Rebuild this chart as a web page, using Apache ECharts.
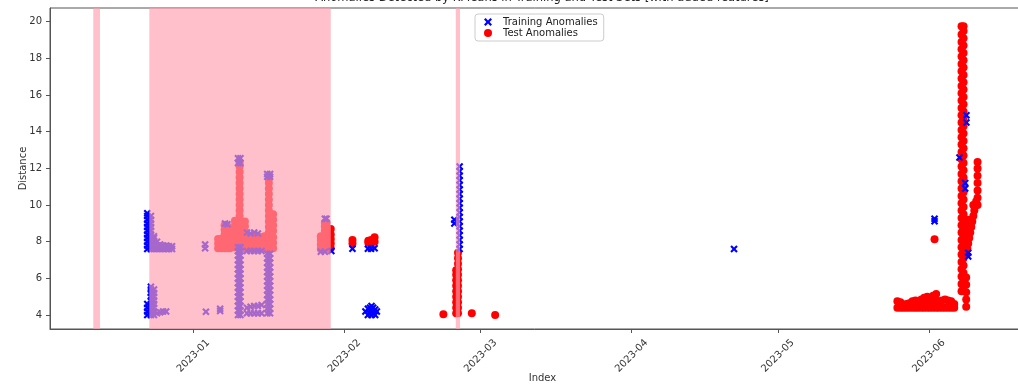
<!DOCTYPE html>
<html><head><meta charset="utf-8">
<script src="https://cdn.jsdelivr.net/npm/echarts@6/dist/echarts.min.js"></script>
<style>html,body{margin:0;padding:0;background:#fff}#c{width:1018px;height:386px}</style>
</head><body><div id="c"></div>
<script>
// ---- data ----
const titleText = 'Anomalies Detected by KMeans in Training and Test Sets [with added features]';
const xTickLabels = ['2023-01', '2023-02', '2023-03', '2023-04', '2023-05', '2023-06'];
const yTickValues = [4, 6, 8, 10, 12, 14, 16, 18, 20];
const xRange = ['2022-12-02 13:40', '2023-06-22 19:00'];
const yRange = [3.24, 20.75];

// highlighted anomaly periods (pink spans)
const anomalySpans = [
  ['2022-12-11 11:00', '2022-12-12 20:00'],
  ['2022-12-22 23:00', '2023-01-29 05:00'],
  ['2023-02-23 21:00', '2023-02-24 18:00']
];

// Training anomalies: [time, distances at that time]
const trainGroups = [
  ['2022-12-22 13:00', [4.0, 4.2, 4.4, 4.6, 7.6, 7.8, 8.0, 8.2, 8.4, 8.6, 8.8, 9.0, 9.2, 9.4, 9.55]],
  ['2022-12-23 07:00', [4.0, 4.2, 4.4, 4.6, 4.8, 5.0, 5.2, 5.4, 5.55, 7.6, 7.8, 8.0, 8.2, 8.4, 8.6, 8.8, 9.0, 9.2, 9.4]],
  ['2022-12-23 22:00', [4.0, 4.2, 4.4, 4.6, 4.8, 5.0, 5.2, 5.4, 7.6, 7.8, 8.0, 8.2, 8.3]],
  ['2022-12-24 13:00', [4.1, 7.6, 7.8, 8.0]],
  ['2022-12-25 04:00', [4.15, 7.6, 7.85]],
  ['2022-12-25 19:00', [4.2, 7.6, 7.8]],
  ['2022-12-26 10:00', [4.2, 7.6, 7.8]],
  ['2022-12-27 00:00', [7.6, 7.75]],
  ['2022-12-27 15:00', [7.6, 7.75]],
  ['2023-01-03 10:00', [7.65, 7.85]],
  ['2023-01-03 14:00', [4.18]],
  ['2023-01-06 12:00', [4.22, 4.35]],
  ['2023-01-07 12:00', [9.0]],
  ['2023-01-08 00:00', [8.95]],
  ['2023-01-10 04:00', [4.0, 4.25, 4.5, 4.75, 5.0, 5.25, 5.5, 5.75, 6.0, 6.25, 6.5, 6.75, 7.0, 7.25, 7.5, 7.7, 12.3, 12.55]],
  ['2023-01-10 16:00', [4.0, 4.25, 4.5, 4.75, 5.0, 5.25, 5.5, 5.75, 6.0, 6.25, 6.5, 6.75, 7.0, 7.25, 7.5, 7.7, 12.3, 12.55]],
  ['2023-01-12 00:00', [4.1, 4.4, 7.5, 8.5]],
  ['2023-01-12 18:00', [4.1, 4.45, 7.5, 8.45]],
  ['2023-01-13 12:00', [4.1, 4.5, 7.5, 8.5]],
  ['2023-01-14 06:00', [4.1, 4.5, 7.5, 8.45]],
  ['2023-01-15 00:00', [4.1, 4.55, 7.5]],
  ['2023-01-16 04:00', [4.1, 4.35, 4.6, 4.85, 5.1, 5.35, 5.6, 5.85, 6.1, 6.35, 6.6, 6.85, 7.1, 7.35, 11.55, 11.7]],
  ['2023-01-16 18:00', [4.1, 4.35, 4.6, 4.85, 5.1, 5.35, 5.6, 5.85, 6.1, 6.35, 6.6, 6.85, 7.1, 7.35, 11.55, 11.7]],
  ['2023-01-27 04:00', [7.45]],
  ['2023-01-28 00:00', [7.45, 9.25]],
  ['2023-01-28 08:00', [9.25]],
  ['2023-01-29 08:00', [7.5]],
  ['2023-02-02 16:00', [7.62]],
  ['2023-02-05 08:00', [4.2]],
  ['2023-02-05 20:00', [4.0, 4.35, 7.62]],
  ['2023-02-06 06:00', [4.1, 4.4]],
  ['2023-02-06 12:00', [7.62]],
  ['2023-02-06 14:00', [4.0, 4.25, 4.5]],
  ['2023-02-06 22:00', [4.1, 4.4]],
  ['2023-02-07 05:00', [7.65]],
  ['2023-02-07 08:00', [4.0, 4.3]],
  ['2023-02-07 16:00', [4.2]],
  ['2023-02-23 14:00', [9.0, 9.2]],
  ['2023-02-24 16:00', [7.6, 7.85, 8.1, 8.35, 8.6, 8.85, 9.1, 9.35, 9.6, 9.85, 10.1, 10.35, 10.6, 10.85, 11.1, 11.35, 11.6, 11.85, 12.1]],
  ['2023-04-22 00:00', [7.6]],
  ['2023-06-02 04:00', [9.12, 9.25]],
  ['2023-06-07 07:00', [12.6]],
  ['2023-06-08 11:00', [10.9, 11.2]],
  ['2023-06-08 17:00', [14.5, 14.9]],
  ['2023-06-09 02:00', [7.2, 7.4]]
];

// Test anomalies: [time, distances at that time]
const testGroups = [
  ['2023-01-06 02:00', [7.65, 7.9, 8.15]],
  ['2023-01-06 18:00', [7.65, 7.9, 8.15]],
  ['2023-01-07 10:00', [7.65, 7.9, 8.15, 8.4, 8.65, 8.9]],
  ['2023-01-08 00:00', [7.65, 7.9, 8.15, 8.4, 8.65, 8.85]],
  ['2023-01-08 12:00', [7.65, 7.9, 8.15, 8.4, 8.65]],
  ['2023-01-09 13:00', [7.7, 8.0, 8.3, 8.6, 8.9, 9.15]],
  ['2023-01-10 12:00', [7.6, 7.9, 8.2, 8.5, 8.8, 9.1, 9.4, 9.7, 10.0, 10.3, 10.6, 10.9, 11.2, 11.5, 11.8, 12.1, 12.3]],
  ['2023-01-11 14:00', [7.65, 7.95, 8.25, 8.55, 8.85, 9.1]],
  ['2023-01-12 06:00', [7.65, 7.95, 8.25]],
  ['2023-01-12 22:00', [7.65, 7.95, 8.3]],
  ['2023-01-13 14:00', [7.65, 7.95, 8.25]],
  ['2023-01-14 06:00', [7.65, 7.95, 8.3]],
  ['2023-01-14 22:00', [7.65, 7.95, 8.25]],
  ['2023-01-15 14:00', [7.65, 7.95, 8.3]],
  ['2023-01-16 12:00', [7.6, 7.9, 8.2, 8.5, 8.8, 9.1, 9.4, 9.7, 10.0, 10.3, 10.6, 10.9, 11.2, 11.45]],
  ['2023-01-17 09:00', [7.65, 7.95, 8.25, 8.6, 8.9, 9.2, 9.5]],
  ['2023-01-27 04:00', [7.6, 7.85, 8.1, 8.3]],
  ['2023-01-28 00:00', [7.6, 7.85, 8.1, 8.35, 8.6, 8.85, 9.05]],
  ['2023-01-28 08:00', [7.6, 7.85, 8.1, 8.35, 8.6, 8.85, 9.05]],
  ['2023-01-29 05:00', [7.65, 7.9, 8.15, 8.4, 8.7]],
  ['2023-02-02 16:00', [7.9, 8.1]],
  ['2023-02-05 22:00', [7.95, 8.05]],
  ['2023-02-06 12:00', [7.95, 8.1]],
  ['2023-02-07 05:00', [8.0, 8.25]],
  ['2023-02-21 08:00', [4.05]],
  ['2023-02-23 23:00', [4.1, 4.4, 4.7, 5.0, 5.3, 5.6, 5.9, 6.2, 6.45]],
  ['2023-02-24 08:00', [4.1, 4.4, 4.7, 5.0, 5.3, 5.6, 5.9, 6.2, 6.5, 6.8, 7.1, 7.4]],
  ['2023-02-27 04:00', [4.1]],
  ['2023-03-03 23:00', [4.0]],
  ['2023-05-25 13:00', [4.4, 4.75]],
  ['2023-05-26 04:00', [4.4, 4.7]],
  ['2023-05-26 18:00', [4.4, 4.5]],
  ['2023-05-27 09:00', [4.4, 4.6]],
  ['2023-05-28 00:00', [4.4, 4.65]],
  ['2023-05-28 15:00', [4.4, 4.75]],
  ['2023-05-29 06:00', [4.4, 4.8]],
  ['2023-05-29 20:00', [4.4, 4.7]],
  ['2023-05-30 11:00', [4.4, 4.85]],
  ['2023-05-31 01:00', [4.4, 4.7, 4.95]],
  ['2023-05-31 16:00', [4.4, 4.7, 5.0]],
  ['2023-06-01 06:00', [4.4, 4.65]],
  ['2023-06-01 21:00', [4.4, 4.75, 5.05]],
  ['2023-06-02 04:00', [8.13]],
  ['2023-06-02 12:00', [4.4, 4.8, 5.15]],
  ['2023-06-03 02:00', [4.4, 4.75]],
  ['2023-06-03 17:00', [4.4, 4.8]],
  ['2023-06-04 08:00', [4.4, 4.85]],
  ['2023-06-04 23:00', [4.4, 4.8]],
  ['2023-06-05 14:00', [4.4, 4.75]],
  ['2023-06-06 05:00', [4.4, 4.6]],
  ['2023-06-07 17:00', [5.3, 5.7, 6.1, 6.5, 6.9, 7.3, 7.7, 8.1, 8.5, 8.9, 9.3, 9.7, 10.1, 10.5, 10.9, 11.3, 11.7, 12.1, 12.5, 12.9, 13.3, 13.7, 14.1, 14.5, 14.9, 15.3, 15.7, 16.1, 16.5, 16.9, 17.3, 17.7, 18.1, 18.5, 18.9, 19.3, 19.75]],
  ['2023-06-08 03:00', [5.5, 5.9, 6.3, 6.7, 7.1, 7.5, 7.9, 8.3, 8.7, 9.1, 9.5, 9.9, 10.3, 10.7, 11.1, 11.5, 11.9, 12.3, 12.7, 13.1, 13.5, 13.9, 14.3, 14.7, 15.1, 15.5, 15.9, 16.3, 16.7, 17.1, 17.5, 17.9, 18.3, 18.7, 19.1, 19.5, 19.75]],
  ['2023-06-08 16:00', [4.45, 4.85, 5.25, 5.65, 6.05, 7.3, 8.0, 8.6]],
  ['2023-06-08 22:00', [7.6, 8.2]],
  ['2023-06-09 02:00', [7.9, 8.6, 9.2]],
  ['2023-06-09 07:00', [8.2, 8.9]],
  ['2023-06-09 12:00', [8.5]],
  ['2023-06-09 17:00', [8.8]],
  ['2023-06-09 22:00', [9.1]],
  ['2023-06-10 03:00', [9.4, 10.0]],
  ['2023-06-10 08:00', [9.7]],
  ['2023-06-10 12:00', [9.95]],
  ['2023-06-10 17:00', [10.2]],
  ['2023-06-11 00:00', [10.0, 10.4, 10.8, 11.2, 11.6, 12.0, 12.35]]
];

// ---- helpers ----
function toTs(s) { return new Date(s.replace(' ', 'T')).getTime(); }
function flatten(groups) {
  const out = [];
  groups.forEach(([t, vs]) => vs.forEach(v => out.push([toTs(t), v])));
  return out;
}
const xTickTs = xTickLabels.map(s => toTs(s + '-01 00:00'));
const X_PATH = 'path://M0,2L2,0L5,3L8,0L10,2L7,5L10,8L8,10L5,7L2,10L0,8L3,5Z';
const FONT = 'DejaVu Sans';
const AXIS_COLOR = '#555';

const chart = echarts.init(document.getElementById('c'), null, { renderer: 'canvas' });
chart.setOption({
  animation: false,
  backgroundColor: '#ffffff',
  title: {
    text: titleText, left: 542, top: -8, textAlign: 'center', padding: 0,
    textStyle: { fontSize: 11.5, fontWeight: 'normal', color: '#222', fontFamily: FONT }
  },
  legend: {
    orient: 'vertical', left: 475, top: 14, padding: [3, 6, 3, 9],
    itemGap: 1, itemWidth: 8, itemHeight: 8,
    backgroundColor: '#fff', borderColor: '#ccc', borderWidth: 1, borderRadius: 3,
    textStyle: { fontSize: 10, fontFamily: FONT, color: '#222', padding: [0, 0, 0, 6] },
    data: [
      { name: 'Training Anomalies', icon: X_PATH },
      { name: 'Test Anomalies', icon: 'circle' }
    ]
  },
  grid: {
    left: 50, right: -17, top: 8, bottom: 57, show: true,
    borderColor: AXIS_COLOR, borderWidth: 1,
    outerBoundsMode: 'none', containLabel: false
  },
  xAxis: {
    type: 'value', min: toTs(xRange[0]), max: toTs(xRange[1]),
    axisLine: { show: true, lineStyle: { color: AXIS_COLOR } },
    axisTick: { show: true, customValues: xTickTs, length: 4, lineStyle: { color: AXIS_COLOR } },
    axisLabel: {
      customValues: xTickTs, rotate: 45, align: 'center', verticalAlign: 'middle', margin: 27,
      fontSize: 10, color: '#333', fontFamily: FONT,
      formatter: v => { const i = xTickTs.indexOf(v); return i >= 0 ? xTickLabels[i] : ''; }
    },
    splitLine: { show: false },
    name: 'Index', nameLocation: 'middle', nameGap: 44, nameMoveOverlap: false,
    nameTextStyle: { fontSize: 10, color: '#333', fontFamily: FONT }
  },
  yAxis: {
    type: 'value', min: yRange[0], max: yRange[1],
    axisLine: { show: true, lineStyle: { color: AXIS_COLOR } },
    axisTick: { show: true, customValues: yTickValues, length: 4, lineStyle: { color: AXIS_COLOR } },
    axisLabel: { customValues: yTickValues, margin: 8, fontSize: 10, color: '#333', fontFamily: FONT },
    splitLine: { show: false },
    name: 'Distance', nameLocation: 'middle', nameGap: 22, nameMoveOverlap: false,
    nameTextStyle: { fontSize: 10, color: '#333', fontFamily: FONT }
  },
  series: [
    {
      name: 'Test Anomalies', type: 'scatter', z: 2, silent: true,
      symbol: 'circle', symbolSize: 8,
      itemStyle: { color: '#ff0000', opacity: 1 },
      data: flatten(testGroups)
    },
    {
      name: 'Training Anomalies', type: 'scatter', z: 3, silent: true,
      symbol: X_PATH, symbolSize: 7.5,
      itemStyle: { color: '#0000ff', opacity: 1 },
      data: flatten(trainGroups)
    },
    {
      name: 'spans', type: 'scatter', z: 5, silent: true, data: [],
      markArea: {
        silent: true, z: 10,
        itemStyle: { color: 'rgb(255,158,175)', opacity: 0.65, borderWidth: 0 },
        emphasis: { disabled: true },
        data: anomalySpans.map(s => [{ xAxis: toTs(s[0]) }, { xAxis: toTs(s[1]) }])
      }
    }
  ]
});
</script>
</body></html>
